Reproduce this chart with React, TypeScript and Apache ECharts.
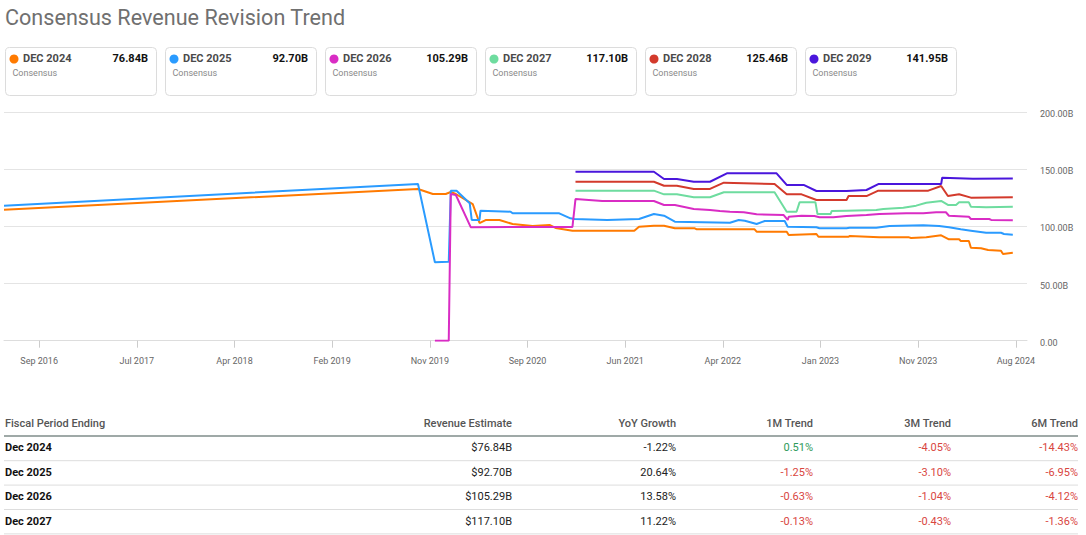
import React, { useEffect, useRef } from "react";
import * as echarts from "echarts";

// ---------- DATA ----------
const tickDates = [
  "2016-09-25", "2017-07-11", "2018-04-26", "2019-02-09", "2019-11-25", "2020-09-09",
  "2021-06-25", "2022-04-10", "2023-01-24", "2023-11-09", "2024-08-24",
];
const tickLabels = [
  "Sep 2016", "Jul 2017", "Apr 2018", "Feb 2019", "Nov 2019", "Sep 2020",
  "Jun 2021", "Apr 2022", "Jan 2023", "Nov 2023", "Aug 2024",
];
const axisMinDate = "2016-06-13";
const axisMaxDate = "2024-09-26";
const yTicks = [0, 50, 100, 150, 200];

const seriesNames = ["DEC 2024", "DEC 2025", "DEC 2026", "DEC 2027", "DEC 2028", "DEC 2029"];
const seriesColors = ["#FF7A00", "#2A9BFF", "#D92CC4", "#6EDC9F", "#D33A2C", "#4A16DC"];
const legendValues = ["76.84B", "92.70B", "105.29B", "117.10B", "125.46B", "141.95B"];

const dec2024: [string, number][] = [
  ["2016-06-13", 114.6], ["2019-10-21", 132.7], ["2019-12-04", 128.3], ["2020-01-11", 128.3],
  ["2020-01-26", 130.0], ["2020-02-10", 128.3], ["2020-03-31", 119.5], ["2020-04-20", 102.9],
  ["2020-05-08", 105.5], ["2020-06-18", 105.5], ["2020-07-27", 102.1], ["2020-09-24", 100.3],
  ["2020-11-13", 101.2], ["2020-12-01", 98.6], ["2021-01-20", 96.2], ["2021-07-22", 96.2],
  ["2021-08-05", 99.7], ["2021-09-18", 100.6], ["2021-10-18", 100.6], ["2021-11-19", 98.3],
  ["2022-01-17", 98.3], ["2022-01-23", 97.4], ["2022-07-13", 97.4], ["2022-07-19", 95.3],
  ["2022-10-16", 95.3], ["2022-10-22", 92.4], ["2023-01-12", 93.3], ["2023-01-18", 90.9],
  ["2023-04-17", 90.9], ["2023-04-20", 91.6], ["2023-07-17", 90.4], ["2023-10-13", 90.4],
  ["2023-10-19", 89.8], ["2023-12-03", 90.4], ["2024-01-16", 92.2], ["2024-02-08", 88.7],
  ["2024-03-09", 88.7], ["2024-03-14", 87.2], ["2024-04-07", 87.2], ["2024-04-13", 81.3],
  ["2024-05-13", 80.8], ["2024-06-03", 79.3], ["2024-07-11", 78.7], ["2024-07-17", 75.8],
  ["2024-08-15", 76.84],
];
const dec2025: [string, number][] = [
  ["2016-06-13", 118.1], ["2019-10-21", 137.0], ["2019-12-10", 68.6], ["2020-01-20", 69.1],
  ["2020-01-26", 131.2], ["2020-02-12", 131.2], ["2020-03-22", 120.2], ["2020-03-28", 105.6],
  ["2020-04-20", 105.6], ["2020-04-23", 113.7], ["2020-07-21", 112.8], ["2020-07-27", 111.4],
  ["2020-12-12", 111.4], ["2021-01-14", 107.0], ["2021-01-26", 106.4], ["2021-05-03", 105.6],
  ["2021-08-05", 106.4], ["2021-09-18", 110.8], ["2021-10-18", 109.3], ["2021-11-19", 104.1],
  ["2022-05-01", 103.2], ["2022-05-27", 105.6], ["2022-06-14", 104.9], ["2022-07-19", 102.1],
  ["2022-08-12", 104.7], ["2022-10-10", 104.7], ["2022-10-19", 99.7], ["2023-01-12", 99.2],
  ["2023-01-21", 98.3], ["2023-04-11", 98.3], ["2023-04-20", 98.8], ["2023-07-08", 98.8],
  ["2023-08-16", 100.3], ["2023-11-24", 100.9], ["2024-01-10", 100.3], ["2024-02-08", 99.2],
  ["2024-03-14", 97.4], ["2024-04-13", 96.2], ["2024-05-28", 94.4], ["2024-07-11", 94.4],
  ["2024-07-20", 93.3], ["2024-08-15", 92.7],
];
const dec2026: [string, number][] = [
  ["2019-12-10", 0], ["2020-01-20", 0], ["2020-01-26", 128.3], ["2020-02-10", 127.4],
  ["2020-03-25", 99.3], ["2021-01-20", 99.5], ["2021-01-29", 123.9], ["2021-04-18", 122.2],
  ["2021-09-18", 122.2], ["2021-10-18", 118.7], ["2021-11-19", 118.7], ["2022-01-14", 115.2],
  ["2022-03-03", 114.3], ["2022-04-01", 113.4], ["2022-05-01", 112.8], ["2022-06-11", 112.3],
  ["2022-07-19", 110.5], ["2022-10-07", 109.9], ["2022-10-19", 105.6], ["2022-10-22", 108.4],
  ["2022-11-29", 109.3], ["2023-01-06", 109.0], ["2023-01-21", 107.9], ["2023-03-03", 107.9],
  ["2023-04-11", 109.0], ["2023-06-09", 109.9], ["2023-07-17", 110.8], ["2023-10-05", 111.4],
  ["2023-11-24", 111.4], ["2024-01-01", 112.3], ["2024-01-30", 112.3], ["2024-02-08", 109.3],
  ["2024-04-07", 108.4], ["2024-04-13", 106.4], ["2024-06-06", 106.4], ["2024-06-12", 105.6],
  ["2024-08-15", 105.29],
];
const dec2027: [string, number][] = [
  ["2021-01-29", 131.2], ["2021-09-18", 131.2], ["2021-10-18", 128.0], ["2021-11-25", 128.0],
  ["2022-01-14", 125.4], ["2022-03-03", 125.4], ["2022-04-13", 129.8], ["2022-09-10", 129.8],
  ["2022-10-16", 112.8], ["2022-11-14", 112.8], ["2022-11-23", 121.0], ["2023-01-09", 121.0],
  ["2023-01-15", 110.8], ["2023-02-23", 110.8], ["2023-02-26", 113.4], ["2023-04-11", 113.7],
  ["2023-07-08", 114.3], ["2023-07-29", 115.2], ["2023-09-26", 116.3], ["2023-11-03", 118.1],
  ["2023-12-03", 120.7], ["2024-01-16", 122.2], ["2024-02-05", 118.7], ["2024-02-29", 118.7],
  ["2024-03-09", 121.0], ["2024-04-07", 121.0], ["2024-04-13", 117.2], ["2024-05-28", 116.7],
  ["2024-08-15", 117.1],
];
const dec2028: [string, number][] = [
  ["2021-01-29", 139.0], ["2021-09-18", 139.0], ["2021-10-18", 135.5], ["2021-11-25", 135.5],
  ["2022-01-14", 132.7], ["2022-03-03", 132.7], ["2022-04-13", 138.2], ["2022-09-10", 137.0],
  ["2022-10-16", 128.0], ["2022-11-29", 128.0], ["2023-01-12", 123.0], ["2023-04-11", 123.0],
  ["2023-04-17", 126.5], ["2023-06-09", 126.5], ["2023-07-14", 131.2], ["2023-12-09", 131.2],
  ["2024-01-16", 135.3], ["2024-02-05", 126.5], ["2024-03-09", 128.0], ["2024-04-13", 125.1],
  ["2024-08-15", 125.46],
];
const dec2029: [string, number][] = [
  ["2021-01-29", 147.8], ["2021-09-18", 147.8], ["2021-10-18", 141.4], ["2021-11-25", 141.4],
  ["2022-01-14", 139.0], ["2022-03-03", 139.0], ["2022-04-22", 146.4], ["2022-09-16", 146.4],
  ["2022-10-16", 136.2], ["2022-12-05", 136.2], ["2023-01-12", 130.9], ["2023-04-11", 130.9],
  ["2023-06-09", 131.8], ["2023-07-14", 137.0], ["2024-01-16", 137.0], ["2024-01-19", 142.5],
  ["2024-04-19", 141.7], ["2024-08-15", 141.95],
];
const allSeries = [dec2024, dec2025, dec2026, dec2027, dec2028, dec2029];

const tableHeaders = ["Fiscal Period Ending", "Revenue Estimate", "YoY Growth", "1M Trend", "3M Trend", "6M Trend"];
const periods = ["Dec 2024", "Dec 2025", "Dec 2026", "Dec 2027"];
const revenueEstimates = ["$76.84B", "$92.70B", "$105.29B", "$117.10B"];
const yoyGrowth = ["-1.22%", "20.64%", "13.58%", "11.22%"];
const trend1M = [0.51, -1.25, -0.63, -0.13];
const trend3M = [-4.05, -3.1, -1.04, -0.43];
const trend6M = [-14.43, -6.95, -4.12, -1.36];

// ---------- HELPERS ----------
const DAY = 86400000;
const parseDate = (s: string) => {
  const [y, m, d] = s.split("-").map(Number);
  return Date.UTC(y, m - 1, d) / DAY; // days since epoch
};
const tickTimes = tickDates.map(parseDate);
const labelFor = (v: number) => {
  let best = 0;
  let bestDiff = Infinity;
  tickTimes.forEach((t, i) => {
    const diff = Math.abs(t - v);
    if (diff < bestDiff) {
      bestDiff = diff;
      best = i;
    }
  });
  return tickLabels[best];
};
const pct = (v: number) => v.toFixed(2) + "%";
const FONT = "Roboto, 'Noto Sans', sans-serif";

export default function App() {
  const ref = useRef<HTMLDivElement>(null);

  useEffect(() => {
    if (!ref.current) return;
    const chart = echarts.init(ref.current, undefined, { renderer: "svg" });

    const graphics: any[] = [];
    graphics.push({
      type: "text",
      x: 5,
      y: 17.5,
      style: {
        text: "Consensus Revenue Revision Trend",
        fill: "#707070",
        fontSize: 21.6,
        fontFamily: FONT,
        fontWeight: 400,
        textAlign: "left",
        textVerticalAlign: "middle",
      },
    });
    seriesNames.forEach((name, i) => {
      const x0 = 5 + i * 160;
      graphics.push({
        type: "rect",
        shape: { x: x0 + 0.5, y: 47.5, width: 151, height: 48, r: 4 },
        style: { fill: "#fff", stroke: "#dcdcdc", lineWidth: 1 },
      });
      graphics.push({
        type: "circle",
        shape: { cx: x0 + 9, cy: 59, r: 4.5 },
        style: { fill: seriesColors[i] },
      });
      graphics.push({
        type: "text",
        x: x0 + 18,
        y: 58.5,
        style: {
          text: name,
          fill: "#4a4a4a",
          fontSize: 11,
          fontWeight: 700,
          fontFamily: FONT,
          textAlign: "left",
          textVerticalAlign: "middle",
        },
      });
      graphics.push({
        type: "text",
        x: x0 + 143,
        y: 58.5,
        style: {
          text: legendValues[i],
          fill: "#111",
          fontSize: 11,
          fontWeight: 700,
          fontFamily: FONT,
          textAlign: "right",
          textVerticalAlign: "middle",
        },
      });
      graphics.push({
        type: "text",
        x: x0 + 7.5,
        y: 73,
        style: {
          text: "Consensus",
          fill: "#888",
          fontSize: 9,
          fontFamily: FONT,
          textAlign: "left",
          textVerticalAlign: "middle",
        },
      });
    });

    const colRight = [0, 512, 676, 813, 951, 1078];
    const headerY = 423.5;
    tableHeaders.forEach((h, c) => {
      graphics.push({
        type: "text",
        x: c === 0 ? 5 : colRight[c],
        y: headerY,
        style: {
          text: h,
          fill: "#555",
          fontSize: 11,
          fontWeight: 500,
          fontFamily: FONT,
          textAlign: c === 0 ? "left" : "right",
          textVerticalAlign: "middle",
        },
      });
    });
    graphics.push({
      type: "line",
      shape: { x1: 4, y1: 436, x2: 1078, y2: 436 },
      style: { stroke: "#7f8c8a", lineWidth: 1.5 },
    });
    const rowH = 24.4;
    periods.forEach((p, r) => {
      const cy = 447.8 + r * rowH;
      const cells = [
        { t: p, color: "#111", w: 700 },
        { t: revenueEstimates[r], color: "#222", w: 400 },
        { t: yoyGrowth[r], color: "#222", w: 400 },
        { t: pct(trend1M[r]), color: trend1M[r] >= 0 ? "#2e9a5a" : "#d9463f", w: 400 },
        { t: pct(trend3M[r]), color: trend3M[r] >= 0 ? "#2e9a5a" : "#d9463f", w: 400 },
        { t: pct(trend6M[r]), color: trend6M[r] >= 0 ? "#2e9a5a" : "#d9463f", w: 400 },
      ];
      cells.forEach((cell, c) => {
        graphics.push({
          type: "text",
          x: c === 0 ? 5 : colRight[c],
          y: cy,
          style: {
            text: cell.t,
            fill: cell.color,
            fontSize: 11,
            fontWeight: cell.w,
            fontFamily: FONT,
            textAlign: c === 0 ? "left" : "right",
            textVerticalAlign: "middle",
          },
        });
      });
      const ly = 460.7 + r * rowH;
      graphics.push({
        type: "line",
        shape: { x1: 4, y1: ly, x2: 1078, y2: ly },
        style: { stroke: "#dddddd", lineWidth: 1 },
      });
    });

    chart.setOption({
      animation: false,
      textStyle: { fontFamily: FONT },
      grid: {
        left: 4,
        right: 59,
        top: 112,
        height: 228.7,
        containLabel: false,
      },
      xAxis: {
        type: "value",
        min: parseDate(axisMinDate),
        max: parseDate(axisMaxDate),
        axisLine: { show: true, onZero: false, lineStyle: { color: "#dddddd" } },
        axisTick: {
          show: true,
          length: 7,
          lineStyle: { color: "#cccccc" },
          customValues: tickTimes,
        },
        axisLabel: {
          customValues: tickTimes,
          formatter: (v: number) => labelFor(v),
          fontSize: 9,
          color: "#666",
          margin: 16,
          fontFamily: FONT,
          showMinLabel: true,
          showMaxLabel: true,
        },
        splitLine: { show: false },
      },
      yAxis: {
        type: "value",
        position: "right",
        min: yTicks[0],
        max: yTicks[yTicks.length - 1],
        interval: yTicks[1] - yTicks[0],
        axisLine: { show: false },
        axisTick: { show: false },
        axisLabel: {
          formatter: (v: number) => "{a|" + (v === 0 ? "0.00" : v.toFixed(2) + "B") + "}",
          rich: {
            a: { fontSize: 9, color: "#666", fontFamily: FONT, padding: [4, 0, 0, 0] },
          },
          fontSize: 9,
          color: "#666",
          margin: 13,
          fontFamily: FONT,
        },
        splitLine: { lineStyle: { color: "#e4e4e4", width: 1 } },
      },
      series: allSeries.map((data, i) => ({
        name: seriesNames[i],
        type: "line",
        showSymbol: false,
        symbol: "none",
        data: data.map(([d, v]) => [parseDate(d), v]),
        lineStyle: { color: seriesColors[i], width: 2 },
        itemStyle: { color: seriesColors[i] },
        z: 2 + i,
      })),
      graphic: graphics,
    });

    return () => chart.dispose();
  }, []);

  return (
    <div
      ref={ref}
      style={{ position: "absolute", left: 0, top: 0, width: 1086, height: 535, background: "#fff" }}
    />
  );
}
